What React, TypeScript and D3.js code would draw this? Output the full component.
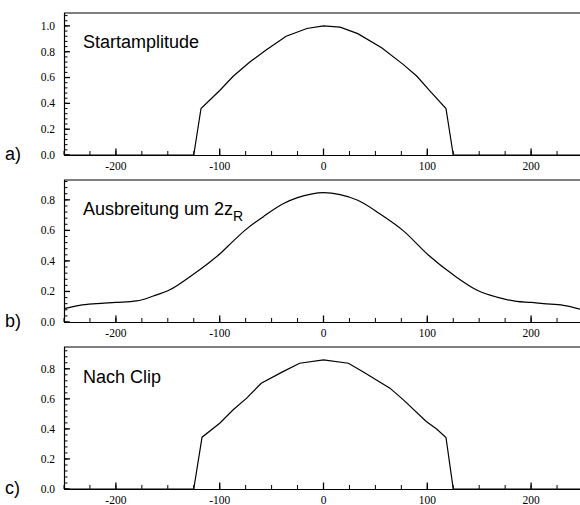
import React from "react";
import * as d3 from "d3";

const xTicks = [-200, -100, 0, 100, 200];
const yTicks = [0, 0.2, 0.4, 0.6, 0.8, 1.0];

const startX = [-250, -125, -118, -100, -87, -71, -56, -36, -16, 0, 16, 33, 56, 77, 90, 102, 118, 125, 250];
const startY = [0, 0, 0.36, 0.5, 0.61, 0.72, 0.81, 0.92, 0.98, 1.0, 0.99, 0.94, 0.83, 0.7, 0.61, 0.5, 0.36, 0, 0];

const propX = [-250, -235, -219, -200, -180, -164, -148, -126, -110, -100, -87, -74, -58, -39, -25, -12, 0, 16, 33, 54, 77, 101, 125, 149, 167, 186, 200, 212, 231, 250];
const propY = [0.087, 0.109, 0.12, 0.128, 0.138, 0.17, 0.211, 0.31, 0.39, 0.445, 0.53, 0.61, 0.69, 0.775, 0.815, 0.838, 0.847, 0.834, 0.797, 0.71, 0.597, 0.439, 0.309, 0.205, 0.163, 0.135, 0.128, 0.12, 0.109, 0.08];

const clipX = [-250, -125, -117, -100, -87, -74, -60, -39, -23, 0, 24, 38, 64, 77, 99, 109, 118, 125, 250];
const clipY = [0, 0, 0.345, 0.438, 0.527, 0.605, 0.704, 0.781, 0.837, 0.859, 0.837, 0.781, 0.671, 0.593, 0.449, 0.399, 0.343, 0, 0];

type PanelProps = {
  top: number;
  bottom: number;
  yMax: number;
  xs: number[];
  ys: number[];
  smooth: boolean;
  title: React.ReactNode;
  titleY: number;
  letter: string;
};

const left = 64;
const right = 583;
const serif = "Liberation Serif";
const sans = "Liberation Sans";

function Panel({ top, bottom, yMax, xs, ys, smooth, title, titleY, letter }: PanelProps) {
  const x = d3.scaleLinear().domain([-250, 250]).range([left, right]);
  const y = d3.scaleLinear().domain([0, yMax]).range([bottom, top]);
  const pts = xs.map((v, i) => [v, ys[i]] as [number, number]);
  const line = d3
    .line<[number, number]>()
    .x((d) => x(d[0]))
    .y((d) => y(d[1]))
    .curve(smooth ? d3.curveMonotoneX : d3.curveLinear);
  const xMinor: number[] = [];
  for (let i = -10; i <= 10; i++) xMinor.push(i * 25);
  const yMinor: number[] = [];
  for (let i = 0; i * 0.04 <= yMax + 1e-9; i++) yMinor.push(i * 0.04);
  const yMajor = yTicks.filter((t) => t <= yMax + 1e-9);
  return (
    <g>
      <path d={line(pts) || ""} fill="none" stroke="#000" strokeWidth={1.2} />
      <line x1={left} x2={580} y1={top} y2={top} stroke="#000" strokeWidth={1} />
      <line x1={left + 0.5} x2={left + 0.5} y1={top} y2={bottom} stroke="#000" strokeWidth={1.2} />
      <line x1={left} x2={580} y1={bottom + 0.5} y2={bottom + 0.5} stroke="#000" strokeWidth={1.2} />
      {xMinor.map((t) => (
        <line key={"xm" + t} x1={x(t)} x2={x(t)} y1={bottom} y2={bottom - 4} stroke="#000" strokeWidth={1} />
      ))}
      {xTicks.map((t) => (
        <g key={"x" + t}>
          <line x1={x(t)} x2={x(t)} y1={bottom} y2={bottom - 6.5} stroke="#000" strokeWidth={1.3} />
          <text x={x(t)} y={bottom + 14.5} textAnchor="middle" fontFamily={serif} fontSize={11.5}>
            {t}
          </text>
        </g>
      ))}
      {yMinor.map((t, i) => (
        <line key={"ym" + i} x1={left} x2={left + 3.5} y1={y(t)} y2={y(t)} stroke="#000" strokeWidth={1} />
      ))}
      {yMajor.map((t) => (
        <g key={"y" + t}>
          <line x1={left} x2={left + 6} y1={y(t)} y2={y(t)} stroke="#000" strokeWidth={1.3} />
          <text x={55} y={y(t) + 3.8} textAnchor="end" fontFamily={serif} fontSize={11.5}>
            {t.toFixed(1)}
          </text>
        </g>
      ))}
      <text x={83} y={titleY} fontFamily={sans} fontSize={18}>
        {title}
      </text>
      <text x={5} y={bottom + 5} fontFamily={sans} fontSize={18}>
        {letter}
      </text>
    </g>
  );
}

export default function App() {
  return (
    <svg width={580} height={505} style={{ position: "absolute", left: 0, top: 0, background: "#fff" }}>
      <rect width={580} height={505} fill="#fff" />
      <Panel top={13} bottom={155} yMax={1.1} xs={startX} ys={startY} smooth={false} title="Startamplitude" titleY={48} letter="a)" />
      <Panel
        top={180}
        bottom={322}
        yMax={0.93}
        xs={propX}
        ys={propY}
        smooth={true}
        title={
          <>
            Ausbreitung um 2z
            <tspan fontSize={14} dy={6}>R</tspan>
          </>
        }
        titleY={215}
        letter="b)"
      />
      <Panel top={347} bottom={489} yMax={0.945} xs={clipX} ys={clipY} smooth={false} title="Nach Clip" titleY={383} letter="c)" />
    </svg>
  );
}
